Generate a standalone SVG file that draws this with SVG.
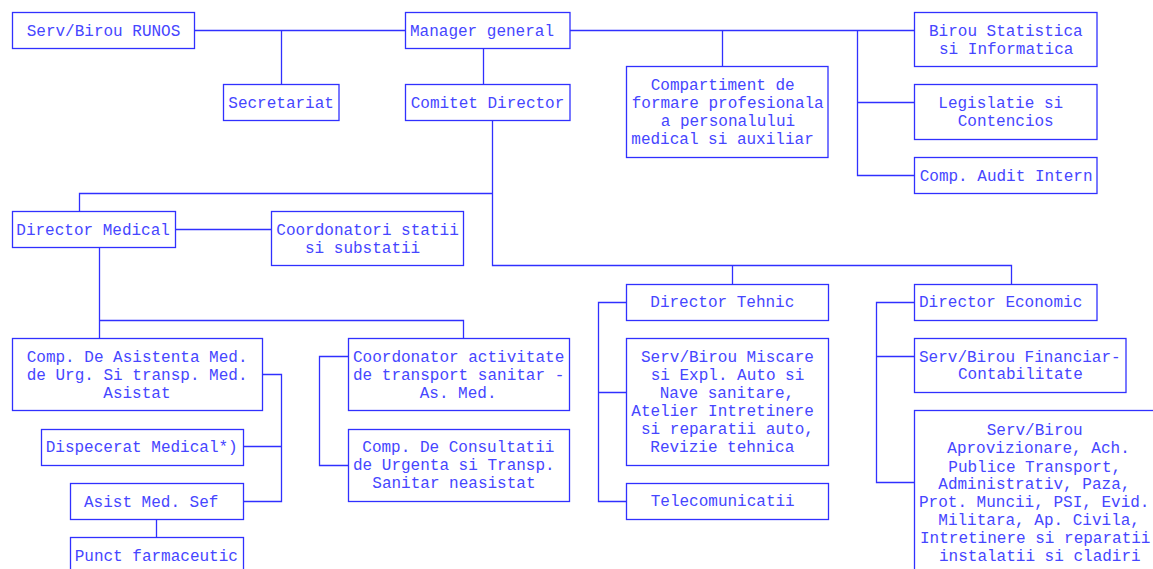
<svg xmlns="http://www.w3.org/2000/svg" width="1153" height="569" viewBox="0 0 1153 569">
<style>
rect{fill:#fff;stroke:#3030ff;stroke-width:1.3}
#connectors path{fill:none;stroke:#3030ff;stroke-width:1.3}
text{font-family:"Liberation Mono","Courier New",monospace;font-size:16px;fill:#4646ff}
</style>
<rect x="0" y="0" width="1153" height="569" style="stroke:none"/>
<g id="connectors">
<path d="M194.5 30.5H405.5M281.5 30.5V84.5"/>
<path d="M483.5 48.5V84.5"/>
<path d="M570 30.5H914.5M722.5 30.5V66.5M857.5 30.5V175.5H914.5M857.5 102.5H914.5"/>
<path d="M492.5 120.5V265.5H1011.5V284.5M492.5 193.5H79.5V211.5M732.5 265.5V284.5"/>
<path d="M175.5 229.5H271.5"/>
<path d="M99.5 247.5V338.5M99.5 320.5H463.5V338.5"/>
<path d="M262.5 374.5H281.5V501.5H243.5M243.5 446.5H281.5"/>
<path d="M156.5 519.5V537.5"/>
<path d="M348.5 356.5H319.5V465.5H348.5"/>
<path d="M626.5 302.5H598.5V501.5H626.5M598.5 392.5H626.5"/>
<path d="M914.5 302.5H876.5V482.5H914.5M876.5 356.5H914.5"/>
</g>
<g id="runos"><rect x="12.5" y="12.5" width="182" height="36"/><text x="26.7" y="36">Serv/Birou RUNOS</text></g>
<g id="secretariat"><rect x="223.5" y="84.5" width="115.5" height="36"/><text x="228.3" y="107.5">Secretariat</text></g>
<g id="manager"><rect x="405.5" y="12.5" width="164.5" height="36"/><text x="410" y="36">Manager general</text></g>
<g id="comitet"><rect x="405.5" y="84.5" width="164.5" height="36"/><text x="410.7" y="107.5">Comitet Director</text></g>
<g id="compartiment"><rect x="626.5" y="66.5" width="201.5" height="91"/>
<text x="650.7" y="89.5">Compartiment de</text><text x="631.7" y="107.7">formare profesionala</text><text x="660.7" y="125.8">a personalului</text><text x="631.3" y="144">medical si auxiliar</text></g>
<g id="statistica"><rect x="914.5" y="12.5" width="182.5" height="54"/><text x="929" y="36">Birou Statistica</text><text x="939" y="54">si Informatica</text></g>
<g id="legislatie"><rect x="914.5" y="84.5" width="182.5" height="55"/><text x="938.3" y="107.7">Legislatie si</text><text x="957.7" y="125.5">Contencios</text></g>
<g id="audit"><rect x="914.5" y="157.5" width="182.5" height="36"/><text x="919.7" y="180.7">Comp. Audit Intern</text></g>
<g id="dirmedical"><rect x="12.5" y="211.5" width="163" height="36"/><text x="16.3" y="234.5">Director Medical</text></g>
<g id="coordonatori"><rect x="271.5" y="211.5" width="192" height="54"/><text x="276.3" y="234.5">Coordonatori statii</text><text x="305" y="252.5">si substatii</text></g>
<g id="compasistenta"><rect x="12.5" y="338.5" width="250" height="72"/><text x="26.7" y="361.7">Comp. De Asistenta Med.</text><text x="26.7" y="379.7">de Urg. Si transp. Med.</text><text x="103.3" y="397.7">Asistat</text></g>
<g id="dispecerat"><rect x="41.5" y="429.5" width="202" height="36"/><text x="45.7" y="451.7">Dispecerat Medical*)</text></g>
<g id="asistsef"><rect x="70.5" y="483.5" width="173" height="36"/><text x="84" y="506.7">Asist Med. Sef</text></g>
<g id="punct"><rect x="70.5" y="537.5" width="173" height="40"/><text x="74.7" y="560.7">Punct farmaceutic</text></g>
<g id="coordactivitate"><rect x="348.5" y="338.5" width="221" height="72"/><text x="353" y="361.7">Coordonator activitate</text><text x="353" y="379.7">de transport sanitar -</text><text x="419.7" y="397.7">As. Med.</text></g>
<g id="compconsultatii"><rect x="348.5" y="429.5" width="221" height="72"/><text x="362.3" y="451.7">Comp. De Consultatii</text><text x="353" y="470.2">de Urgenta si Transp.</text><text x="372.3" y="488.3">Sanitar neasistat</text></g>
<g id="dirtehnic"><rect x="626.5" y="284.5" width="202" height="36"/><text x="650.3" y="307.3">Director Tehnic</text></g>
<g id="miscare"><rect x="626.5" y="338.5" width="202" height="127"/>
<text x="641" y="361.7">Serv/Birou Miscare</text><text x="650.7" y="379.7">si Expl. Auto si</text><text x="659.7" y="397.7">Nave sanitare,</text><text x="631.3" y="415.7">Atelier Intretinere</text><text x="641" y="433.7">si reparatii auto,</text><text x="650.3" y="451.7">Revizie tehnica</text></g>
<g id="telecom"><rect x="626.5" y="483.5" width="202" height="36"/><text x="650.7" y="506">Telecomunicatii</text></g>
<g id="direconomic"><rect x="914.5" y="284.5" width="182.5" height="36"/><text x="919" y="307.3">Director Economic</text></g>
<g id="financiar"><rect x="914.5" y="338.5" width="211.5" height="54"/><text x="919" y="361.7">Serv/Birou Financiar-</text><text x="958" y="379.3">Contabilitate</text></g>
<g id="aprovizionare"><rect x="914.5" y="410.5" width="260" height="180"/>
<text x="986.7" y="435">Serv/Birou</text><text x="947.3" y="453.2">Aprovizionare, Ach.</text><text x="948.3" y="471.5">Publice Transport,</text><text x="938.3" y="489.3">Administrativ, Paza,</text><text x="919" y="507.3">Prot. Muncii, PSI, Evid.</text><text x="938.3" y="525.3">Militara, Ap. Civila,</text><text x="920" y="543">Intretinere si reparatii</text><text x="939" y="560.5">instalatii si cladiri</text></g>
</svg>
